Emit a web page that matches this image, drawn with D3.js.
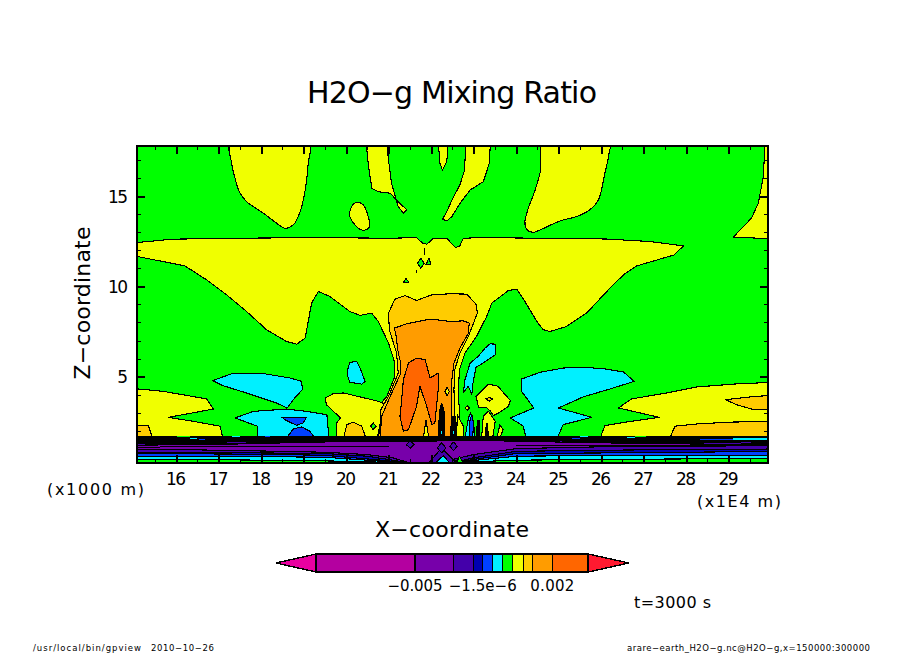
<!DOCTYPE html>
<html><head><meta charset="utf-8">
<script src="https://cdn.jsdelivr.net/npm/d3@7"></script>
<style>html,body{margin:0;padding:0;background:#fff}svg{display:block}text{font-family:"DejaVu Sans",sans-serif;fill:#000}</style>
</head><body><svg id="c" width="904" height="654"></svg>
<script>
// ---- data: contour regions, [x (1E4 m), z (km)] ----
const xTicks=[16,17,18,19,20,21,22,23,24,25,26,27,28,29];
const zTicks=[5,10,15];
const yellowLobes=[
 [[17.29,18],[17.31,16.80],[17.39,15.98],[17.49,15.24],[17.66,14.69],[18.06,14.04],[18.37,13.49],[18.57,13.21],[18.76,13.40],[18.92,14.13],[19.04,15.33],[19.11,16.80],[19.13,18]],
 [[20.09,14.13],[20.17,14.54],[20.29,14.65],[20.41,14.50],[20.50,14.04],[20.55,13.58],[20.53,13.21],[20.37,13.12],[20.21,13.40],[20.09,13.86]],
 [[24.64,18],[24.58,16.44],[24.45,15.33],[24.29,14.32],[24.21,13.58],[24.25,13.16],[24.41,12.99],[24.60,13.16],[25.04,13.62],[25.47,13.90],[25.78,14.32],[25.94,14.78],[26.09,16.25],[26.19,17.36],[26.20,18]]
];
const yellowRegions=[
 [[20.47,18],[20.53,16.62],[20.61,15.42],[20.76,15.24],[21.04,15.15],[21.19,14.78],[21.43,14.23],[21.35,14.04],[21.23,14.41],[21.07,15.70],[21.00,16.99],[20.96,18]],
 [[22.17,18],[22.21,16.80],[22.27,16.44],[22.37,16.90],[22.41,18]],
 [[22.82,18],[22.79,16.44],[22.68,15.61],[22.53,14.96],[22.37,14.13],[22.27,13.71],[22.37,13.62],[22.49,13.86],[22.68,14.59],[22.92,15.33],[23.23,15.79],[23.37,16.80],[23.40,18]],
 [[29.86,18],[29.82,16.07],[29.70,14.59],[29.54,13.77],[29.11,12.72],[30.2,12.62],[30.2,18]],
 [[14.9,12.38],[15.90,12.61],[17.27,12.66],[19.39,12.70],[21.04,12.66],[21.66,12.70],[21.80,12.39],[21.90,12.33],[22.06,12.66],[22.37,12.66],[22.57,12.16],[22.67,12.20],[22.76,12.66],[23.15,12.70],[26.13,12.62],[27.15,12.48],[27.94,12.24],[27.72,11.74],[26.84,11.13],[26.53,10.64],[26.21,9.90],[25.66,8.52],[25.19,7.78],[24.80,7.50],[24.64,7.60],[24.49,8.06],[24.21,9.16],[24.02,9.84],[23.82,9.77],[23.43,9.07],[23.31,8.33],[23.07,7.23],[22.80,6.31],[22.67,5.39],[22.64,4.10],[22.68,2.81],[22.68,1.70],[20.68,1.70],[20.76,3.36],[20.96,3.91],[21.15,5.02],[21.15,5.76],[21.00,6.86],[20.76,8.06],[20.60,8.52],[20.33,8.39],[20.09,8.61],[19.62,9.44],[19.35,9.72],[19.19,9.07],[19.04,7.14],[18.84,6.80],[18.60,6.95],[18.13,7.60],[17.66,8.61],[17.19,9.53],[16.72,10.36],[16.21,11.13],[15.70,11.37],[14.9,11.74]],
 [[14.9,4.37],[15.70,4.19],[16.72,3.77],[16.88,3.21],[15.82,2.75],[16.41,2.53],[17.04,2.26],[17.10,1.6],[14.9,1.6]],
 [[19.51,3.82],[19.70,4.06],[19.94,4.10],[20.76,3.64],[20.90,3.5],[20.76,1.89],[20.72,1.6],[19.78,1.6],[19.78,2.44],[19.87,2.72],[19.66,3.18],[19.54,3.45]],
 [[26.41,3.27],[26.72,3.77],[27.55,4.10],[28.25,4.43],[29.11,4.59],[30.2,4.71],[30.2,1.6],[25.98,1.6],[26.09,2.29],[26.60,2.49],[27.37,2.75]],
 [[23.06,3.91],[23.35,4.59],[23.58,4.47],[23.74,4.01],[23.87,3.69],[23.82,3.36],[23.62,3.03],[23.47,2.85],[23.40,3.09],[23.30,3.3],[23.12,3.3]],
 [[23.19,1.6],[23.23,2.81],[23.35,3.09],[23.51,2.53],[23.45,1.6]],
 [[22.60,1.6],[22.62,2.90],[22.76,2.26],[22.78,1.6]],
 [[23.55,1.6],[23.62,2.35],[23.70,2.07],[23.62,1.6]],
 [[22.81,3.27],[22.85,3.40],[22.90,3.27],[22.85,3.14]]
];
const greenHoles=[
 [[21.68,11.28],[21.76,11.56],[21.84,11.28],[21.76,11.00]],
 [[21.88,11.19],[21.95,11.56],[22.00,11.19]],
 [[21.35,10.21],[21.41,10.45],[21.48,10.21]],
 [[20.58,2.26],[20.64,2.44],[20.71,2.26],[20.64,2.07]]
];
const strayContours=[
 [[21.85,12.10],[21.85,11.74]],
 [[21.65,10.90],[21.65,10.73]],
 [[22.26,10.73],[22.27,10.71]]
];
const cyanRegions=[
 [[16.86,4.78],[17.35,5.20],[18.06,5.17],[18.68,4.93],[18.96,4.74],[18.97,4.28],[18.76,3.73],[18.62,3.27],[18.37,3.54],[17.66,4.10],[17.11,4.50]],
 [[17.39,2.72],[17.82,3.08],[18.60,3.21],[19.07,3.08],[19.55,2.90],[19.60,1.6],[17.92,1.6],[17.92,2.26],[17.66,2.48]],
 [[20.04,5.39],[20.09,5.79],[20.25,5.85],[20.33,5.48],[20.45,4.74],[20.37,4.59],[20.09,4.69],[20.04,5.02]],
 [[24.13,4.87],[24.56,5.24],[25.11,5.48],[25.58,5.53],[26.13,5.42],[26.53,5.26],[26.78,4.74],[26.21,4.32],[25.58,3.88],[25.00,3.27],[25.78,2.75],[25.11,2.35],[24.97,1.6],[24.24,1.6],[24.17,2.26],[23.87,2.72],[24.42,3.27],[24.13,4.19]],
 [[23.39,6.82],[23.51,6.80],[23.52,6.22],[23.23,5.76],[23.06,5.52],[22.98,4.56],[22.96,4.01],[22.88,4.47],[22.76,4.13],[22.80,4.83],[22.92,5.76],[23.11,6.12],[23.27,6.58]],
 [[22.80,1.6],[22.88,2.72],[22.93,2.99],[23.00,2.44],[23.04,1.6]]
];
const blueRegions=[
 [[18.49,2.75],[19.07,2.75],[18.99,2.44],[18.84,2.31],[18.60,2.57]],
 [[18.60,1.6],[18.76,2.11],[18.96,2.22],[19.15,1.98],[19.27,1.6]],
 [[22.90,2.44],[22.96,2.90],[23.00,2.44],[22.98,1.6],[22.92,1.6]]
];
const lightOrangeRegions=[
 [[14.9,2.29],[15.35,2.29],[15.45,1.6],[14.9,1.6]],
 [[19.94,1.6],[20.02,2.35],[20.17,2.49],[20.37,2.26],[20.47,1.6]],
 [[28.93,3.73],[29.50,3.88],[29.90,3.95],[30.2,3.95],[30.2,3.18],[29.54,3.21],[29.19,3.45]],
 [[27.62,1.6],[27.74,2.26],[28.33,2.40],[29.11,2.49],[30.2,2.53],[30.2,1.6]],
 [[21.00,8.52],[21.15,9.29],[21.39,9.49],[21.66,9.22],[22.02,9.53],[22.45,9.59],[22.84,9.57],[23.07,8.98],[23.09,8.52],[22.88,7.23],[22.68,6.31],[22.56,5.39],[22.54,4.28],[22.56,2.81],[22.56,1.6],[20.76,1.6],[20.80,2.26],[20.82,3.18],[21.00,3.91],[21.23,5.20],[21.19,6.31],[21.02,7.60]],
 [[23.29,3.77],[23.37,3.86],[23.45,3.77],[23.37,3.64]]
];
const orangeRegions=[
 [[21.14,7.69],[21.43,7.93],[21.98,8.19],[22.45,8.06],[22.76,8.09],[22.90,7.97],[22.88,7.41],[22.68,6.58],[22.54,5.76],[22.49,4.83],[22.49,2.99],[22.51,1.6],[20.80,1.6],[20.84,2.81],[21.04,3.91],[21.29,5.20],[21.29,5.76],[21.23,6.31],[21.18,7.23]]
];
const darkOrangeRegions=[
 [[21.31,3.73],[21.35,4.83],[21.47,5.76],[21.66,6.03],[21.86,5.94],[21.98,4.93],[22.17,5.20],[22.17,4.28],[22.09,2.44],[22.02,2.35],[21.90,3.36],[21.74,4.47],[21.66,3.36],[21.47,2.07],[21.35,1.98],[21.27,2.81]]
];
const coreYellowSpikes=[
 [[21.82,1.6],[21.88,2.6],[21.95,1.6]],
 [[22.33,4.19],[22.38,4.43],[22.43,4.19],[22.38,3.95]]
];
const blackSpikes=[
 [[22.17,1.6],[22.20,3.08],[22.25,3.54],[22.31,3.08],[22.33,1.6]],
 [[22.45,1.6],[22.49,2.81],[22.57,2.81],[22.60,1.6]],
 [[23.07,1.6],[23.09,2.6],[23.13,2.6],[23.15,1.6]],
 [[23.28,1.6],[23.30,2.4],[23.33,2.4],[23.35,1.6]]
];
const coreCyanStripes=[
 [[22.23,1.8],[22.25,2.6],[22.27,1.8]],
 [[22.50,1.8],[22.53,2.4],[22.55,1.8]]
];
// layered band tops along x, painted from the top down
const bandX=[14.9,16.5,18,19.5,20.5,21.1,21.5,22,22.5,23,24,26,28,30.2];
const blackTop=[1.70,1.70,1.70,1.70,1.70,1.70,1.70,1.70,1.70,1.70,1.70,1.70,1.70,1.70];
const indigoTopA=[1.37,1.37,1.41,1.43,1.43,1.43,1.43,1.46,1.52,1.52,1.46,1.43,1.43,1.37];
const purpleTop=[1.21,1.24,1.30,1.41,1.41,1.41,1.41,1.43,1.48,1.48,1.43,1.34,1.28,1.24];
const indigoTopB=[0.97,0.95,0.89,0.82,0.69,0.51,0.23,0.23,0.42,0.69,1.02,1.12,1.15,1.19];
const navyTop=[0.82,0.82,0.78,0.75,0.60,0.38,0.23,0.23,0.23,0.51,0.87,0.93,0.97,1.00];
const blueTop=[0.73,0.73,0.71,0.65,0.45,0.32,0.23,0.23,0.23,0.42,0.75,0.78,0.82,0.87];
const cyanTop=[0.60,0.60,0.58,0.54,0.38,0.27,0.23,0.23,0.36,0.36,0.60,0.64,0.64,0.65];
const greenTop=[0.42,0.42,0.38,0.34,0.30,0.23,0.23,0.23,0.32,0.29,0.38,0.42,0.45,0.47];
const extraBandLines=[
 [[14.9,1.10],[16.5,1.12],[18,1.12],[19.5,1.14],[20.5,1.16],[21,1.16]],
 [[24,1.20],[26,1.22],[28,1.22],[30.2,1.21]],
 [[14.9,1.30],[16.5,1.30],[18,1.34],[19.5,1.37]],
 [[26,1.38],[28,1.36],[30.2,1.31]]
];
const bandIndigoMarks=[
 [[21.42,1.24],[21.51,1.44],[21.60,1.24],[21.51,1.04]],
 [[21.94,0.2],[22.25,1.06],[22.60,0.2]],
 [[22.15,1.06],[22.25,1.34],[22.35,1.06],[22.25,0.78]],
 [[22.44,1.15],[22.53,1.38],[22.62,1.15],[22.53,0.92]]
];
const bandCyanMarks=[[[22.09,0.2],[22.29,0.63],[22.45,0.2]]];
const bandGreenMarks=[[[22.59,0.2],[22.67,0.60],[22.76,0.2]]];
// small patches on the dense band: [x0,x1,z0,z1]
const greenPatches=[[16.02,16.33,1.67,1.74],[26.80,27.07,1.67,1.74]];
const cyanPatches=[[17.31,17.51,1.67,1.74],[16.33,16.49,1.54,1.61],[25.51,25.70,1.67,1.74],[26.60,26.80,1.58,1.65],[29.11,29.90,1.52,1.59]];
const bluePatches=[[16.53,16.68,1.50,1.57],[18.09,18.21,1.65,1.72],[25.31,25.51,1.54,1.61],[28.33,29.11,1.48,1.56]];
// colour bar
const barLevels=[-0.01,-0.005,-0.002,-0.0005,-1.5e-6,1e-5,5e-5,1e-4,5e-4,0.001,0.002,0.005];
const barLabels=["\u22120.005","\u22121.5e\u22126","0.002"];
const barLabelLevels=[-0.005,-1.5e-6,0.002];

// ---- styling and layout ----
const C={mag:"#e800a0",m1:"#b400a0",purple:"#7700aa",indigo:"#4400aa",navy:"#0000b0",blue:"#0040ff",cyan:"#00f0ff",green:"#00ff00",yellow:"#f0ff00",lo:"#ffcc00",o:"#ff9c00",dark:"#ff6600",red:"#ff1a30"};
const svg=d3.select("#c");
const x=d3.scaleLinear().domain([16,29]).range([176,728.5]);
const z=d3.scaleLinear().domain([5,15]).range([376.7,196]);
const L=137,R=768,T=146,B=463;
svg.append("clipPath").attr("id","pc").append("rect").attr("x",L).attr("y",T).attr("width",R-L).attr("height",B-T);
const g=svg.append("g").attr("clip-path","url(#pc)");
g.append("rect").attr("x",L).attr("y",T).attr("width",R-L).attr("height",B-T).attr("fill",C.green);
const ln=d3.line().x(d=>x(d[0])).y(d=>z(d[1]));
const smooth=d3.line().x(d=>x(d[0])).y(d=>z(d[1])).curve(d3.curveCatmullRomClosed.alpha(0.5));
function regions(list,fill,gen){
 g.selectAll(null).data(list).enter().append("path").attr("d",d=>gen?gen(d):ln(d)+"Z")
  .attr("fill",fill).attr("stroke","#000").attr("stroke-width",1.1).attr("stroke-linejoin","round").attr("shape-rendering","crispEdges");
}
regions(yellowLobes,C.yellow,smooth);
regions(yellowRegions,C.yellow);
regions(greenHoles,C.green);
g.selectAll(null).data(strayContours).enter().append("path").attr("d",ln).attr("fill","none").attr("stroke","#000").attr("stroke-width",1.1).attr("shape-rendering","crispEdges");
regions(cyanRegions.slice(0,5),C.cyan);
regions(blueRegions.slice(0,2),C.blue);
regions(lightOrangeRegions,C.lo);
regions(orangeRegions,C.o);
regions(darkOrangeRegions,C.dark);
regions(coreYellowSpikes,C.yellow);
regions(cyanRegions.slice(5),C.cyan);
regions(blueRegions.slice(2),C.blue);
regions(blackSpikes,"#000");
regions(coreCyanStripes,C.cyan);
// layered band
const bottomZ=z.invert(B+4);
const area=d3.area().x((d,i)=>x(bandX[i])).y0(z(bottomZ)).y1(d=>z(d));
[[blackTop,"#000"],[indigoTopA,C.indigo],[purpleTop,C.purple],[indigoTopB,C.indigo],[navyTop,C.navy],[blueTop,C.blue],[cyanTop,C.cyan],[greenTop,C.green]].forEach(([t,c])=>{
 g.append("path").attr("d",area(t)).attr("fill",c).attr("stroke","#000").attr("stroke-width",1.1).attr("shape-rendering","crispEdges");
});
g.selectAll(null).data(extraBandLines).enter().append("path").attr("d",ln).attr("fill","none").attr("stroke","#000").attr("stroke-width",1).attr("shape-rendering","crispEdges");
regions(bandIndigoMarks,C.indigo);
regions(bandCyanMarks,C.cyan);
regions(bandGreenMarks,C.green);
function patches(list,fill){
 g.selectAll(null).data(list).enter().append("rect").attr("x",d=>x(d[0])).attr("width",d=>x(d[1])-x(d[0])).attr("y",d=>z(d[3])).attr("height",d=>z(d[2])-z(d[3])).attr("fill",fill).attr("shape-rendering","crispEdges");
}
patches(greenPatches,C.green);patches(cyanPatches,C.cyan);patches(bluePatches,C.blue);

// axes
const majorX=xTicks, minorX=d3.range(15.5,30,1).filter(v=>x(v)<R);
const minorZ=d3.range(1,18).filter(v=>v%5!==0&&z(v)<B&&z(v)>T);
function axis(gen,vals,size,w,tr){
 const a=svg.append("g").attr("transform",tr).call(gen.tickValues(vals).tickSize(size).tickFormat(""));
 a.select(".domain").remove();
 a.selectAll("line").attr("stroke","#000").attr("stroke-width",w).attr("shape-rendering","crispEdges");
}
axis(d3.axisBottom(x),majorX,-8,2,`translate(0,${B})`);
axis(d3.axisBottom(x),minorX,-4,1,`translate(0,${B})`);
axis(d3.axisTop(x),majorX,-8,2,`translate(0,${T})`);
axis(d3.axisTop(x),minorX,-4,1,`translate(0,${T})`);
axis(d3.axisLeft(z),zTicks,-8,2,`translate(${L},0)`);
axis(d3.axisLeft(z),minorZ,-4,1,`translate(${L},0)`);
axis(d3.axisRight(z),zTicks,-8,2,`translate(${R},0)`);
axis(d3.axisRight(z),minorZ,-4,1,`translate(${R},0)`);
svg.append("rect").attr("x",L).attr("y",T).attr("width",R-L).attr("height",B-T).attr("fill","none").attr("stroke","#000").attr("stroke-width",2.2).attr("shape-rendering","crispEdges");

// text
function txt(s,px,py,size,anchor,len,rot){
 const t=svg.append("text").text(s).attr("x",px).attr("y",py).attr("font-size",size).attr("text-anchor",anchor||"middle");
 if(len) t.attr("textLength",len).attr("lengthAdjust","spacing");
 if(rot) t.attr("transform",`rotate(${rot} ${px} ${py})`);
 return t;
}
xTicks.forEach(v=>txt(String(v),x(v),485,17,"middle",20));
zTicks.forEach(v=>txt(String(v),128,z(v)+6.5,17,"end",v<10?10:20));
txt("H2O\u2212g Mixing Ratio",452,103,30,"middle",290);
txt("X\u2212coordinate",452,537,22,"middle",154);
txt("Z\u2212coordinate",90,303,22,"middle",153,-90);
txt("(x1000 m)",95.5,495,16,"middle",97);
txt("(x1E4 m)",739,507,16,"middle",84);
txt("t=3000 s",672.5,608,16,"middle",77);
txt("/usr/local/bin/gpview",33,651,8.5,"start",108);
txt("2010\u221210\u221226",151,651,8.5,"start",63);
txt("arare\u2212earth_H2O\u2212g.nc@H2O\u2212g,x=150000:300000",627,651,8.5,"start",243);

// colour bar (piecewise scale across the levels)
const barEdges=[316,415,453.3,473.3,482.7,492.7,502.7,512.7,523.3,532.7,552.3,588.3];
const bs=d3.scaleLinear().domain(barLevels).range(barEdges);
const barCols=[C.m1,C.purple,C.indigo,C.navy,C.blue,C.cyan,C.green,C.yellow,C.lo,C.o,C.dark];
const by0=554,by1=572,bym=563;
const bg=svg.append("g").attr("shape-rendering","crispEdges");
bg.selectAll("rect").data(barCols).enter().append("rect")
 .attr("x",(d,i)=>bs(barLevels[i])).attr("width",(d,i)=>bs(barLevels[i+1])-bs(barLevels[i]))
 .attr("y",by0).attr("height",by1-by0).attr("fill",d=>d).attr("stroke","#000").attr("stroke-width",1.4);
bg.append("path").attr("d",`M316,${by0}L276,${bym}L316,${by1}Z`).attr("fill",C.mag).attr("stroke","#000").attr("stroke-width",1.4);
bg.append("path").attr("d",`M588.3,${by0}L629,${bym}L588.3,${by1}Z`).attr("fill",C.red).attr("stroke","#000").attr("stroke-width",1.4);
bg.append("rect").attr("x",316).attr("y",by0).attr("width",272.3).attr("height",by1-by0).attr("fill","none").attr("stroke","#000").attr("stroke-width",2);
barLabels.forEach((s,i)=>txt(s,bs(barLabelLevels[i]),591,15,"middle",[55,68,44][i]));
</script></body></html>
